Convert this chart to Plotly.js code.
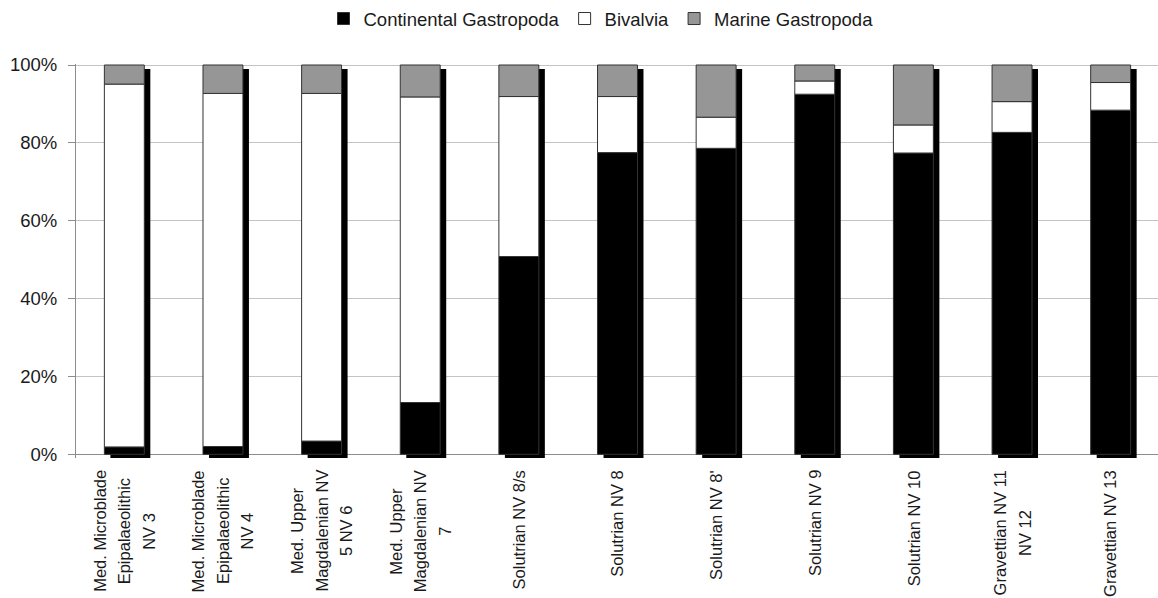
<!DOCTYPE html>
<html>
<head>
<meta charset="utf-8">
<script src="https://cdn.plot.ly/plotly-3.0.1.min.js"></script>
<style>html,body{margin:0;padding:0;background:#fff;}#chart{width:1158px;height:598px;}</style>
</head>
<body>
<div id="chart"></div>
<script>
// ---- data ----
const categories = [
  "Med. Microblade<br>Epipalaeolithic<br>NV 3",
  "Med. Microblade<br>Epipalaeolithic<br>NV 4",
  "Med. Upper<br>Magdalenian NV<br>5 NV 6",
  "Med. Upper<br>Magdalenian NV<br>7",
  "Solutrian NV 8/s",
  "Solutrian NV 8",
  "Solutrian NV 8'",
  "Solutrian NV 9",
  "Solutrian NV 10",
  "Gravettian NV 11<br>NV 12",
  "Gravettian NV 13"
];
const continentalGastropoda = [1.9, 2.0, 3.4, 13.3, 50.8, 77.5, 78.6, 92.5, 77.4, 82.7, 88.4];
const bivalvia              = [93.2, 90.7, 89.3, 78.5, 41.1, 14.4, 8.0, 3.4, 7.2, 7.9, 7.1];
const marineGastropoda      = [4.9, 7.3, 7.3, 8.2, 8.1, 8.1, 13.4, 4.1, 15.4, 9.4, 4.5];
const yTickValues = [0, 20, 40, 60, 80, 100];
const yTickLabels = ["0%", "20%", "40%", "60%", "80%", "100%"];
const seriesNames = ["Continental Gastropoda", "Bivalvia", "Marine Gastropoda"];

// ---- styling ----
const FONT = '"Liberation Sans", Arial, Helvetica, sans-serif';
const CAT_FONT_SIZE = 16.5;
const BAR_W = 0.405;
const SHADOW_DX = 0.061;   // category units
const SHADOW_DY = 1.0;     // percent units
const seriesColors = ["#000000", "#ffffff", "#969696"];
const series = [continentalGastropoda, bivalvia, marineGastropoda];

const totals = categories.map((c, i) => series.reduce((s, arr) => s + arr[i], 0));

const traces = [];
// drop shadow behind each stacked column
traces.push({
  type: 'bar', x: categories, y: totals, base: categories.map(() => -SHADOW_DY),
  width: BAR_W, offset: -BAR_W / 2 + SHADOW_DX,
  marker: {color: '#000000', line: {width: 0}},
  showlegend: false, hoverinfo: 'skip'
});
let cum = categories.map(() => 0);
series.forEach((arr, k) => {
  traces.push({
    type: 'bar', name: seriesNames[k], x: categories, y: arr, base: cum.slice(),
    width: BAR_W,
    marker: {color: seriesColors[k], line: {color: '#333333', width: 1}}
  });
  cum = cum.map((v, i) => v + arr[i]);
});

// measure label lines so the rotated lines can be centred on each other
const ctx = document.createElement('canvas').getContext('2d');
ctx.font = CAT_FONT_SIZE + 'px "Liberation Sans", Arial, sans-serif';

const LINE_GAP = 24.5;
const TOP_GAP = 12;
const annotations = [];
categories.forEach(cat => {
  const lines = cat.split('<br>');
  const maxLen = Math.max(...lines.map(l => ctx.measureText(l).width));
  lines.forEach((ln, i) => {
    annotations.push({
      x: cat, xref: 'x', y: 0, yref: 'paper',
      text: ln, showarrow: false, textangle: -90,
      xanchor: 'center', yanchor: 'middle',
      xshift: (i - (lines.length - 1) / 2) * LINE_GAP, yshift: -(TOP_GAP + maxLen / 2),
      font: {family: FONT, size: CAT_FONT_SIZE, color: '#1a1a1a'}
    });
  });
});

const layout = {
  width: 1158, height: 598,
  margin: {l: 76, r: 0, t: 64, b: 140},
  paper_bgcolor: '#ffffff', plot_bgcolor: '#ffffff',
  barmode: 'overlay',
  font: {family: FONT, size: 16, color: '#1a1a1a'},
  showlegend: true,
  legend: {
    orientation: 'h', x: 0.519, xanchor: 'center', xref: 'container',
    y: 1, yanchor: 'top', yref: 'container',
    font: {family: FONT, size: 18.5, color: '#1a1a1a'},
    traceorder: 'normal', itemclick: false
  },
  xaxis: {
    type: 'category', range: [-0.49, 10.48],
    showticklabels: false, showgrid: false, showline: false, zeroline: false, ticks: ''
  },
  yaxis: {
    range: [-0.95, 100.26],
    tickvals: yTickValues, ticktext: yTickLabels,
    showgrid: true, gridcolor: '#c4c4c4', gridwidth: 1,
    zeroline: true, zerolinecolor: '#8c8c8c', zerolinewidth: 1,
    showline: true, linecolor: '#8c8c8c', linewidth: 1,
    ticks: 'outside', ticklen: 7, tickcolor: '#8c8c8c',
    ticklabelstandoff: 7,
    tickfont: {family: FONT, size: 18.5, color: '#1a1a1a'}
  },
  annotations: annotations
};

Plotly.newPlot('chart', traces, layout, {staticPlot: true, displayModeBar: false});
</script>
</body>
</html>
